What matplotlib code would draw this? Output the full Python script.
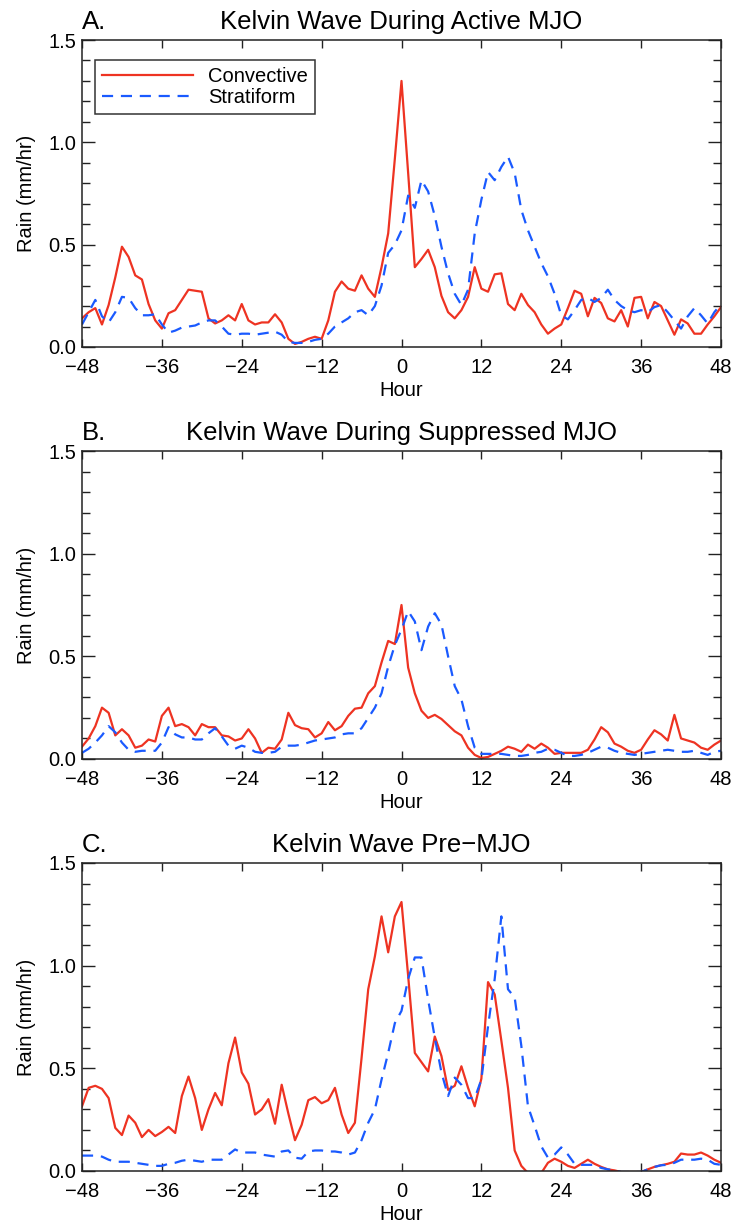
import numpy as np
import matplotlib
matplotlib.use("Agg")
import matplotlib.pyplot as plt
from matplotlib.ticker import MultipleLocator

plt.rcParams['font.family'] = ['Liberation Sans', 'DejaVu Sans']

# hourly composites, hour -48 .. 48
hours = np.arange(-48, 49)

conv_a = [0.14, 0.17, 0.19, 0.11, 0.205, 0.34, 0.49, 0.44, 0.35, 0.33,
          0.21, 0.13, 0.09, 0.165, 0.18, 0.23, 0.28, 0.275, 0.27, 0.14,
          0.115, 0.13, 0.155, 0.13, 0.21, 0.13, 0.11, 0.12, 0.12, 0.16,
          0.12, 0.04, 0.015, 0.025, 0.04, 0.05, 0.04, 0.13, 0.27, 0.32,
          0.285, 0.275, 0.35, 0.285, 0.245, 0.39, 0.555, 0.92, 1.30,
          0.85, 0.39, 0.43, 0.475, 0.39, 0.25, 0.17, 0.14, 0.18, 0.245,
          0.39, 0.285, 0.27, 0.355, 0.36, 0.21, 0.18, 0.26, 0.205, 0.17,
          0.11, 0.065, 0.09, 0.11, 0.19, 0.275, 0.26, 0.15, 0.24, 0.215,
          0.14, 0.125, 0.18, 0.10, 0.24, 0.245, 0.14, 0.22, 0.20, 0.13,
          0.06, 0.135, 0.115, 0.065, 0.065, 0.11, 0.15, 0.195]
strat_a = [0.11, 0.17, 0.23, 0.15, 0.12, 0.17, 0.245, 0.24, 0.19, 0.155,
           0.155, 0.16, 0.11, 0.07, 0.08, 0.095, 0.10, 0.105, 0.12, 0.13,
           0.13, 0.10, 0.065, 0.06, 0.065, 0.065, 0.06, 0.065, 0.07, 0.075,
           0.06, 0.025, 0.02, 0.02, 0.025, 0.035, 0.04, 0.065, 0.10, 0.12,
           0.14, 0.17, 0.18, 0.155, 0.20, 0.30, 0.46, 0.50, 0.57,
           0.74, 0.68, 0.815, 0.76, 0.64, 0.49, 0.36, 0.26, 0.205, 0.28,
           0.555, 0.72, 0.855, 0.815, 0.88, 0.93, 0.85, 0.67, 0.57, 0.49,
           0.41, 0.345, 0.26, 0.155, 0.135, 0.18, 0.23, 0.24, 0.22, 0.24,
           0.28, 0.23, 0.20, 0.18, 0.17, 0.18, 0.17, 0.195, 0.205, 0.17,
           0.13, 0.09, 0.15, 0.19, 0.155, 0.115, 0.17, 0.21]

conv_b = [0.06, 0.10, 0.16, 0.25, 0.225, 0.115, 0.145, 0.115, 0.055, 0.065,
          0.095, 0.085, 0.21, 0.25, 0.16, 0.17, 0.155, 0.115, 0.17, 0.155,
          0.155, 0.115, 0.11, 0.09, 0.10, 0.145, 0.10, 0.03, 0.055, 0.05,
          0.095, 0.225, 0.165, 0.15, 0.145, 0.105, 0.125, 0.18, 0.14, 0.16,
          0.21, 0.245, 0.25, 0.32, 0.355, 0.47, 0.575, 0.56, 0.75,
          0.445, 0.32, 0.235, 0.20, 0.215, 0.195, 0.165, 0.135, 0.115, 0.055,
          0.02, 0.005, 0.01, 0.025, 0.04, 0.06, 0.05, 0.035, 0.07, 0.05,
          0.075, 0.055, 0.025, 0.03, 0.03, 0.03, 0.03, 0.045, 0.095, 0.155,
          0.13, 0.075, 0.06, 0.04, 0.03, 0.045, 0.095, 0.14, 0.12, 0.09,
          0.215, 0.10, 0.09, 0.08, 0.055, 0.045, 0.07, 0.09]
strat_b = [0.03, 0.05, 0.08, 0.115, 0.16, 0.13, 0.08, 0.045, 0.035, 0.04,
           0.04, 0.04, 0.08, 0.155, 0.12, 0.105, 0.105, 0.095, 0.095, 0.125,
           0.15, 0.11, 0.065, 0.05, 0.065, 0.055, 0.035, 0.03, 0.03, 0.035,
           0.06, 0.065, 0.065, 0.07, 0.08, 0.09, 0.095, 0.10, 0.105, 0.12,
           0.125, 0.125, 0.15, 0.20, 0.25, 0.32, 0.45, 0.555, 0.63,
           0.72, 0.67, 0.53, 0.645, 0.71, 0.655, 0.50, 0.355, 0.29, 0.16,
           0.055, 0.025, 0.025, 0.025, 0.025, 0.02, 0.015, 0.015, 0.02, 0.03,
           0.035, 0.05, 0.045, 0.03, 0.015, 0.015, 0.02, 0.03, 0.045, 0.06,
           0.055, 0.04, 0.03, 0.025, 0.02, 0.025, 0.03, 0.035, 0.04, 0.045,
           0.04, 0.035, 0.035, 0.04, 0.03, 0.02, 0.035, 0.04]

conv_c = [0.315, 0.405, 0.415, 0.40, 0.355, 0.21, 0.175, 0.27, 0.235, 0.165,
          0.20, 0.17, 0.19, 0.215, 0.185, 0.365, 0.46, 0.355, 0.20, 0.30,
          0.38, 0.32, 0.525, 0.65, 0.48, 0.425, 0.275, 0.30, 0.35, 0.23,
          0.42, 0.28, 0.15, 0.225, 0.345, 0.36, 0.33, 0.345, 0.405, 0.275,
          0.185, 0.235, 0.55, 0.885, 1.045, 1.24, 1.065, 1.24, 1.31,
          0.95, 0.575, 0.53, 0.485, 0.655, 0.56, 0.395, 0.415, 0.51, 0.405,
          0.315, 0.45, 0.92, 0.86, 0.635, 0.405, 0.10, 0.025, -0.01, -0.01,
          -0.01, 0.04, 0.06, 0.045, 0.025, 0.015, 0.035, 0.055, 0.035, 0.02,
          0.008, 0.003, -0.005, -0.005, -0.005, -0.005, 0.008, 0.02, 0.028, 0.035,
          0.045, 0.085, 0.08, 0.08, 0.09, 0.075, 0.055, 0.04]
strat_c = [0.075, 0.075, 0.075, 0.07, 0.055, 0.045, 0.045, 0.045, 0.04, 0.035,
           0.03, 0.025, 0.025, 0.035, 0.04, 0.05, 0.055, 0.05, 0.045, 0.055,
           0.055, 0.055, 0.08, 0.105, 0.09, 0.09, 0.09, 0.08, 0.075, 0.07,
           0.095, 0.10, 0.065, 0.06, 0.095, 0.10, 0.10, 0.095, 0.095, 0.09,
           0.08, 0.09, 0.15, 0.235, 0.30, 0.445, 0.575, 0.72, 0.78,
           0.935, 1.04, 1.04, 0.835, 0.65, 0.48, 0.365, 0.455, 0.42, 0.355,
           0.355, 0.445, 0.705, 0.935, 1.24, 0.885, 0.845, 0.61, 0.315, 0.22,
           0.12, 0.065, 0.08, 0.115, 0.08, 0.035, 0.03, 0.03, 0.03, 0.015,
           0.008, 0.003, -0.005, -0.005, -0.005, -0.005, 0.008, 0.02, 0.028, 0.03,
           0.04, 0.055, 0.055, 0.055, 0.06, 0.055, 0.035, 0.03]

letters = ['A.', 'B.', 'C.']
titles = ['Kelvin Wave During Active MJO',
          'Kelvin Wave During Suppressed MJO',
          'Kelvin Wave Pre\u2212MJO']
series = [(conv_a, strat_a), (conv_b, strat_b), (conv_c, strat_c)]

RED = '#ee3322'
BLUE = '#1a5aff'
W, H = 735, 1226

fig = plt.figure(figsize=(W / 100, H / 100), dpi=100)

# axes boxes in pixels: (left, top, right, bottom)
boxes = [(82, 40, 721, 347), (82, 451, 721, 759), (82, 863, 721, 1171)]

for k, (l, t, r, b) in enumerate(boxes):
    ax = fig.add_axes([l / W, 1 - b / H, (r - l) / W, (b - t) / H])
    conv, strat = series[k]
    ax.plot(hours, conv, color=RED, lw=1.6, label='Convective')
    ax.plot(hours, strat, color=BLUE, lw=1.6, dashes=(5, 3.5), label='Stratiform')

    ax.set_xlim(-48, 48)
    ax.set_ylim(0, 1.5)
    ax.xaxis.set_major_locator(MultipleLocator(12))
    ax.yaxis.set_major_locator(MultipleLocator(0.5))
    ax.yaxis.set_minor_locator(MultipleLocator(0.1))
    ax.yaxis.set_major_formatter(matplotlib.ticker.FormatStrFormatter('%.1f'))
    ax.tick_params(which='both', direction='in', top=True, right=True,
                   width=1.0, color='#222222', labelsize=14.5)
    ax.tick_params(axis='x', which='major', length=5.5, pad=8)
    ax.tick_params(axis='y', which='major', length=9.5, pad=4)
    ax.tick_params(axis='y', which='minor', length=5.5)
    for s in ax.spines.values():
        s.set_linewidth(1.1)
        s.set_color('#222222')

    ax.set_xlabel('Hour', fontsize=14.5, labelpad=2.5)
    ax.set_ylabel('Rain (mm/hr)', fontsize=14.5, labelpad=9)
    ax.set_title(titles[k], fontsize=18.5, pad=8)
    ax.text(0, 1 + 8 / 72 * 100 / (b - t), letters[k], transform=ax.transAxes,
            fontsize=18.5, ha='left', va='baseline')

    if k == 0:
        leg = ax.legend(loc='upper left', bbox_to_anchor=(13 / (r - l), 1 - 20 / (b - t)),
                        borderaxespad=0, fontsize=14.5, handlelength=4.5,
                        handletextpad=0.75, labelspacing=0.1, borderpad=0.35,
                        fancybox=False, framealpha=1, edgecolor='#333333')
        leg.get_frame().set_linewidth(1.1)

fig.savefig('out.png', dpi=100)
